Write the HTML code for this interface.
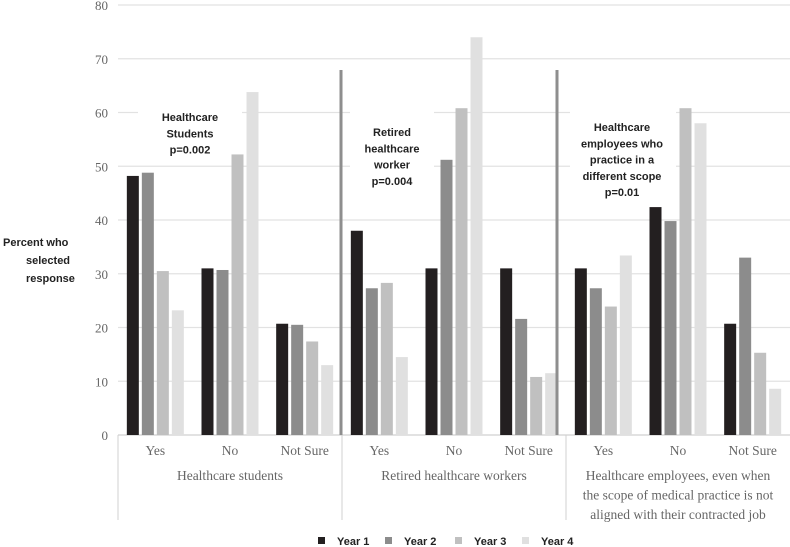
<!DOCTYPE html>
<html><head><meta charset="utf-8">
<style>
html,body{margin:0;padding:0;background:#fff;}
svg{display:block;}
.ann{font-family:"Liberation Sans",sans-serif;font-weight:bold;font-size:11px;fill:#222;}
.tick{font-family:"Liberation Serif",serif;font-size:13px;fill:#666;}
.cat{font-family:"Liberation Serif",serif;font-size:13.5px;fill:#666;}
.leg{font-family:"Liberation Sans",sans-serif;font-weight:bold;font-size:11px;fill:#222;}
</style></head>
<body>
<svg id="chart" width="790" height="547"></svg>
<script>
const groups = ["Healthcare students","Retired healthcare workers","Healthcare employees"];
const responses = ["Yes","No","Not Sure"];
const seriesNames = ["Year 1","Year 2","Year 3","Year 4"];
const year1 = [48.2,31.0,20.7, 38.0,31.0,31.0, 31.0,42.4,20.7];
const year2 = [48.8,30.7,20.5, 27.3,51.2,21.6, 27.3,39.8,33.0];
const year3 = [30.5,52.2,17.4, 28.3,60.8,10.8, 23.9,60.8,15.3];
const year4 = [23.2,63.8,13.0, 14.5,74.0,11.5, 33.4,58.0,8.6];
const yTicks = [0,10,20,30,40,50,60,70,80];

const colors = ["#231f20","#8c8c8c","#c0c0c0","#e0e0e0"];
const NS="http://www.w3.org/2000/svg";
const svg=document.getElementById('chart');
function mk(tag,attrs,parent){const e=document.createElementNS(NS,tag);for(const k in attrs)e.setAttribute(k,attrs[k]);(parent||svg).appendChild(e);return e;}
const x0=118,x1=790,yBase=435,yTop=5,yMax=80;
const y=v=>yBase-(v/yMax)*(yBase-yTop);
const catW=(x1-x0)/9;
const barW=12,gap=3;

yTicks.forEach(t=>{
  const g=mk('line',{x1:x0,x2:x1,y1:y(t),y2:y(t),stroke:t===0?'#d0d0d0':'#e2e2e2','stroke-width':1.2});
  
  
  const tx=mk('text',{x:108,y:y(t)+5,'text-anchor':'end',class:'tick'});
  tx.textContent=t;
  
  
});

const boxes=[[138,100,104,58],[350,105,84,85],[570,108,106,102]];
boxes.forEach((b,i)=>{
  const r=mk('rect',{x:b[0],y:b[1],width:b[2],height:b[3],fill:'#fff'});
  
  
});

const all=[year1,year2,year3,year4];
for(let c=0;c<9;c++){
  const start=x0+c*catW+(catW-(4*barW+3*gap))/2;
  all.forEach((s,k)=>{
    const r=mk('rect',{x:start+k*(barW+gap),y:y(s[c]),width:barW,height:yBase-y(s[c]),fill:colors[k]});
    
    
  });
}

[341,557].forEach((xx,i)=>{
  const l=mk('line',{x1:xx,x2:xx,y1:70,y2:yBase,stroke:'#8e8e8e','stroke-width':3});
  
  
});

[118,342,566].forEach((xx,i)=>{
  const l=mk('line',{x1:xx,x2:xx,y1:yBase,y2:520,stroke:'#d0d0d0','stroke-width':1});
  
  
});
for(let c=0;c<9;c++){
  const t=mk('text',{x:x0+(c+0.5)*catW,y:455,'text-anchor':'middle',class:'cat'});
  t.textContent=responses[c%3];
  
  
}
const gl=[["Healthcare students"],["Retired healthcare workers"],["Healthcare employees, even when","the scope of medical practice is not","aligned with their contracted job"]];
gl.forEach((lines,i)=>{
  lines.forEach((ln,j)=>{
    const t=mk('text',{x:x0+(i+0.5)*3*catW,y:480+j*19.5,'text-anchor':'middle',class:'cat'});
    t.textContent=ln;
    
    
  });
});

const anns=[[190,117,["Healthcare","Students","p=0.002"]],[392,132,["Retired","healthcare","worker","p=0.004"]],[622,127,["Healthcare","employees who","practice in a","different scope","p=0.01"]]];
anns.forEach((a,i)=>{
  a[2].forEach((ln,j)=>{
    const t=mk('text',{x:a[0],y:a[1]+j*16.3+4,'text-anchor':'middle',class:'ann'});
    t.textContent=ln;
    
    
  });
});

["Percent who","selected","response"].forEach((ln,j)=>{
  const t=mk('text',{x:j===0?3:26,y:246+j*18,class:'ann'});
  t.textContent=ln;
  
  
});

const lx=[318,385,455,522];
seriesNames.forEach((n,k)=>{
  const r=mk('rect',{x:lx[k],y:537,width:7,height:7,fill:colors[k]});
  
  
  const t=mk('text',{x:lx[k]+19,y:545,class:'leg'});
  t.textContent=n;
  
  
});
</script>
</body></html>
